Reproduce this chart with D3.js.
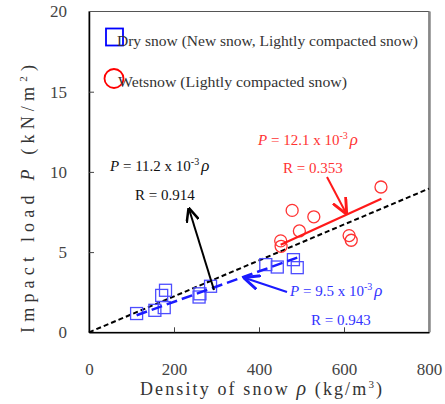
<!DOCTYPE html>
<html>
<head>
<meta charset="utf-8">
<script src="https://d3js.org/d3.v7.min.js"></script>
<style>
  body { margin: 0; background: #fff; }
  svg text { font-family: "Liberation Serif", "DejaVu Serif", serif; }
</style>
</head>
<body>
<div id="chart"></div>
<script>
// data
var dryDensity = [112, 155, 177, 171, 180, 259, 261, 286, 416, 443, 481, 490];
var dryLoad    = [1.17, 1.37, 1.54, 2.3, 2.62, 2.2, 2.4, 2.87, 4.22, 4.07, 4.53, 4.03];
var wetDensity = [451, 452, 495, 478, 529, 612, 617, 687];
var wetLoad    = [5.7, 5.36, 6.32, 7.6, 7.2, 6.03, 5.74, 9.06];
var xTicks = [0, 200, 400, 600, 800];
var yTicks = [0, 5, 10, 15, 20];
// fit coefficients (x 10^-3) and the density range each fit is drawn over
var fitAll = {k: 11.2, from: 0, to: 800};
var fitDry = {k: 9.5, from: 112, to: 490};
var fitWet = {k: 12.1, from: 451, to: 688};

var W = 445, H = 404;
// plot frame (note: "top" would clash with window.top)
var plotLeft = 89, plotTop = 11.5, plotRight = 429, plotBottom = 332.3;

var svg = d3.select('#chart').append('svg')
	.attr('width', W)
	.attr('height', H);

var x = d3.scaleLinear().domain([0, 800]).range([plotLeft, plotRight]);
var y = d3.scaleLinear().domain([0, 20]).range([plotBottom, plotTop]);

var defs = svg.append('defs');
function marker(id, color, size) {
	defs.append('marker')
		.attr('id', id)
		.attr('viewBox', '0 -5 10 10')
		.attr('refX', 9)
		.attr('refY', 0)
		.attr('markerUnits', 'userSpaceOnUse')
		.attr('markerWidth', size)
		.attr('markerHeight', size)
		.attr('orient', 'auto')
		.append('path')
		.attr('d', 'M0,-4.5L10,0L0,4.5')
		.attr('fill', 'none')
		.attr('stroke', color)
		.attr('stroke-width', 1.8);
}
marker('arrBlack', '#000', 14);
marker('arrBlue', '#1a1aff', 16);
marker('arrRed', '#ff1a1a', 16);

// frame
svg.append('rect')
	.attr('x', plotLeft).attr('y', plotTop)
	.attr('width', plotRight - plotLeft).attr('height', plotBottom - plotTop)
	.attr('fill', 'none').attr('stroke', '#555').attr('stroke-width', 1);
svg.append('line')
	.attr('x1', plotRight + 0.5).attr('x2', plotRight + 0.5)
	.attr('y1', plotTop).attr('y2', plotBottom)
	.attr('stroke', '#888').attr('stroke-width', 2.5);

// axes with inward ticks, labels placed well off the frame
var xAxis = svg.append('g')
	.attr('transform', 'translate(0,' + plotBottom + ')')
	.call(d3.axisBottom(x).tickValues(xTicks).tickSizeInner(-5).tickSizeOuter(0).tickPadding(31));
var yAxis = svg.append('g')
	.attr('transform', 'translate(' + plotLeft + ',0)')
	.call(d3.axisLeft(y).tickValues(yTicks).tickSizeInner(-5).tickSizeOuter(0).tickPadding(22));
[xAxis, yAxis].forEach(function (a) {
	a.select('.domain').attr('stroke', '#000').attr('stroke-width', 1.5);
	a.selectAll('.tick line').attr('stroke', '#444');
	a.selectAll('.tick text')
		.attr('fill', '#444')
		.style('font-size', '17px')
		.style('font-family', '"Liberation Serif", serif');
});
xAxis.selectAll('.tick').filter(function (d) { return d == 800 || d == 0; }).select('line').remove();
yAxis.selectAll('.tick').filter(function (d) { return d == 20 || d == 0; }).select('line').remove();

// axis titles
var xt = svg.append('text')
	.attr('x', 140).attr('y', 395)
	.attr('textLength', 242).attr('lengthAdjust', 'spacing')
	.style('font-size', '18px').attr('fill', '#333');
xt.append('tspan').text('Density of snow ');
xt.append('tspan').style('font-style', 'italic').style('font-size', '20px').text('ρ');
xt.append('tspan').text(' (kg/m');
xt.append('tspan').attr('dy', -7).style('font-size', '11px').text('3');
xt.append('tspan').attr('dy', 7).text(')');

var yt = svg.append('text')
	.attr('transform', 'translate(34,333) rotate(-90)')
	.attr('textLength', 268).attr('lengthAdjust', 'spacing')
	.style('font-size', '18px').attr('fill', '#333');
yt.append('tspan').text('Impact load ');
yt.append('tspan').style('font-style', 'italic').text('P');
yt.append('tspan').text('  (kN/m');
yt.append('tspan').attr('dy', -7).style('font-size', '11px').text('2');
yt.append('tspan').attr('dy', 7).text(')');

// fit lines
function fitLine(f, color, width, dash) {
	svg.append('line')
		.attr('x1', x(f.from)).attr('y1', y(f.k * f.from / 1000))
		.attr('x2', x(f.to)).attr('y2', y(f.k * f.to / 1000))
		.attr('stroke', color).attr('stroke-width', width)
		.attr('stroke-dasharray', dash);
}
fitLine(fitAll, '#000', 2, '5,3');

// dry points (squares)
var dry = dryDensity.map(function (d, i) { return {x: d, y: dryLoad[i]}; });
svg.selectAll('.dry').data(dry).enter().append('rect')
	.attr('class', 'dry')
	.attr('x', function (d) { return x(d.x) - 6; })
	.attr('y', function (d) { return y(d.y) - 6; })
	.attr('width', 12).attr('height', 12)
	.attr('fill', 'none').attr('stroke', '#4d4dff').attr('stroke-width', 1.3);

// wet points (circles)
var wet = wetDensity.map(function (d, i) { return {x: d, y: wetLoad[i]}; });
svg.selectAll('.wet').data(wet).enter().append('circle')
	.attr('class', 'wet')
	.attr('cx', function (d) { return x(d.x); })
	.attr('cy', function (d) { return y(d.y); })
	.attr('r', 6)
	.attr('fill', 'none').attr('stroke', '#ff3333').attr('stroke-width', 1.3);

fitLine(fitDry, '#1a1aff', 2.5, '11,5');
fitLine(fitWet, '#ff1a1a', 2.2, null);

// arrows
function arrow(x1, y1, x2, y2, color, id) {
	svg.append('line')
		.attr('x1', x1).attr('y1', y1).attr('x2', x2).attr('y2', y2)
		.attr('stroke', color).attr('stroke-width', 2)
		.attr('marker-end', 'url(#' + id + ')');
}
arrow(214, 290, 189, 209, '#000', 'arrBlack');
arrow(287, 292, 245, 278, '#1a1aff', 'arrBlue');
arrow(327, 177, 346, 213, '#ff1a1a', 'arrRed');

// equation labels
function equation(tx, ty, k, r, rx, ry, color) {
	var t = svg.append('text').attr('x', tx).attr('y', ty)
		.style('font-size', '15px').attr('fill', color);
	t.append('tspan').style('font-style', 'italic').text('P');
	t.append('tspan').text(' = ' + k + ' x 10');
	t.append('tspan').attr('dy', -6).style('font-size', '10px').text('-3');
	t.append('tspan').attr('dy', 6).attr('dx', 2).style('font-style', 'italic').style('font-size', '17px').text('ρ');
	svg.append('text').attr('x', rx).attr('y', ry)
		.style('font-size', '15px').attr('fill', color)
		.text('R = ' + r);
}
equation(110, 171, '11.2', '0.914', 135, 200, '#111');
equation(258, 145, '12.1', '0.353', 283, 173, '#ff3333');
equation(290, 296, '9.5', '0.943', 311, 325, '#3333ff');

// legend
svg.append('rect')
	.attr('x', 106).attr('y', 28.5).attr('width', 17).attr('height', 17)
	.attr('fill', 'none').attr('stroke', '#0000ff').attr('stroke-width', 1.8);
svg.append('text')
	.attr('x', 117).attr('y', 45.5)
	.attr('textLength', 301).attr('lengthAdjust', 'spacingAndGlyphs')
	.style('font-size', '14px').attr('fill', '#333')
	.text('Dry snow (New snow, Lightly compacted snow)');
svg.append('circle')
	.attr('cx', 114).attr('cy', 78.5).attr('r', 9.5)
	.attr('fill', 'none').attr('stroke', '#ff0000').attr('stroke-width', 1.8);
svg.append('text')
	.attr('x', 118).attr('y', 86.5)
	.attr('textLength', 229).attr('lengthAdjust', 'spacingAndGlyphs')
	.style('font-size', '14px').attr('fill', '#333')
	.text('Wetsnow (Lightly compacted snow)');
</script>
</body>
</html>
